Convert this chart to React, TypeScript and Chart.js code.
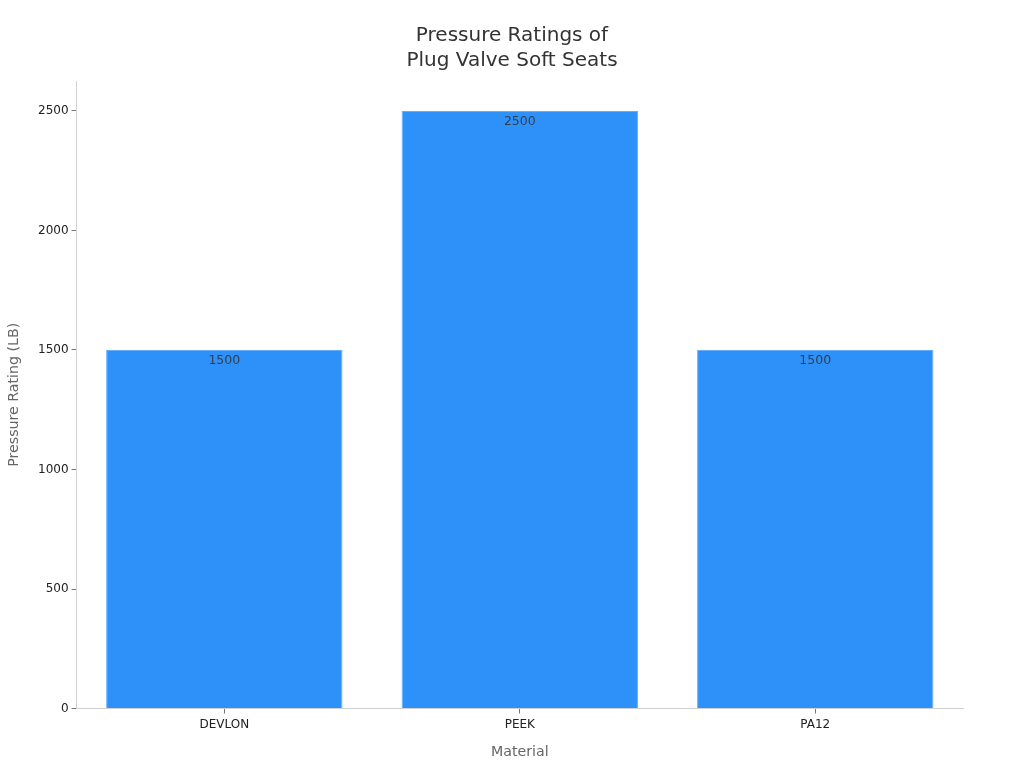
import { useEffect, useRef } from "react"
import { Chart, registerables } from "chart.js"

Chart.register(...registerables)

const materials = ["DEVLON", "PEEK", "PA12"]
const pressureRatings = [1500, 2500, 1500]
const yTicks = [0, 500, 1000, 1500, 2000, 2500]
const yMax = 2625

const font = "'DejaVu Sans', sans-serif"

// value text just under the top edge of each bar
const barLabels = {
  id: "barLabels",
  afterDatasetsDraw(chart: Chart) {
    const ctx = chart.ctx
    const meta = chart.getDatasetMeta(0)
    ctx.save()
    ctx.font = `12.5px ${font}`
    ctx.fillStyle = "#333f4f"
    ctx.textAlign = "center"
    ctx.textBaseline = "top"
    meta.data.forEach((bar, i) => {
      ctx.fillText(String(pressureRatings[i]), bar.x, bar.y + 5)
    })
    ctx.restore()
  },
}

// the title is centred on the whole canvas, not on the padded area
const centerTitle = {
  id: "centerTitle",
  afterLayout(chart: any) {
    chart.titleBlock.left = 0
    chart.titleBlock.right = chart.width
  },
}

export default function App() {
  const chartRef = useRef<HTMLCanvasElement>(null)

  useEffect(() => {
    if (!chartRef.current) return

    const chart = new Chart(chartRef.current, {
      type: "bar",
      data: {
        labels: materials,
        datasets: [
          {
            label: "Pressure Rating (LB)",
            data: pressureRatings,
            backgroundColor: "#2e91fa",
            borderColor: "#62aefb",
            borderWidth: 1,
            barPercentage: 0.8,
            categoryPercentage: 1,
          },
        ],
      },
      options: {
        responsive: false,
        animation: false,
        layout: { padding: { top: 23, right: 61, bottom: 7, left: 6 } },
        plugins: {
          legend: { display: false },
          tooltip: { enabled: false },
          title: {
            display: true,
            text: ["Pressure Ratings of", "Plug Valve Soft Seats"],
            color: "#333333",
            font: { family: font, size: 20, weight: "normal", lineHeight: 1.25 },
            padding: { top: 0, bottom: 8 },
          },
        },
        scales: {
          x: {
            grid: { drawOnChartArea: false, tickLength: 5, tickColor: "#777777", offset: false },
            border: { color: "#d0d0d0" },
            ticks: { color: "#222222", font: { family: font, size: 12 }, padding: 4 },
            title: {
              display: true,
              text: "Material",
              color: "#666666",
              font: { family: font, size: 14.2 },
              padding: { top: 8, bottom: 0 },
            },
          },
          y: {
            min: 0,
            max: yMax,
            afterBuildTicks: (axis) => {
              axis.ticks = yTicks.map((value) => ({ value }))
            },
            grid: { drawOnChartArea: false, tickLength: 5, tickColor: "#777777" },
            border: { color: "#d0d0d0" },
            ticks: {
              color: "#222222",
              font: { family: font, size: 12 },
              padding: 3,
              callback: (value) => String(value),
            },
            title: {
              display: true,
              text: "Pressure Rating (LB)",
              color: "#666666",
              font: { family: font, size: 14.2 },
              padding: { top: 0, bottom: 12 },
            },
          },
        },
      },
      plugins: [barLabels, centerTitle],
    })

    return () => {
      chart.destroy()
    }
  }, [])

  return (
    <div style={{ position: "absolute", left: 0, top: 0, width: 1024, height: 768, background: "#fff" }}>
      <canvas ref={chartRef} width={1024} height={768} style={{ display: "block" }} />
    </div>
  )
}
